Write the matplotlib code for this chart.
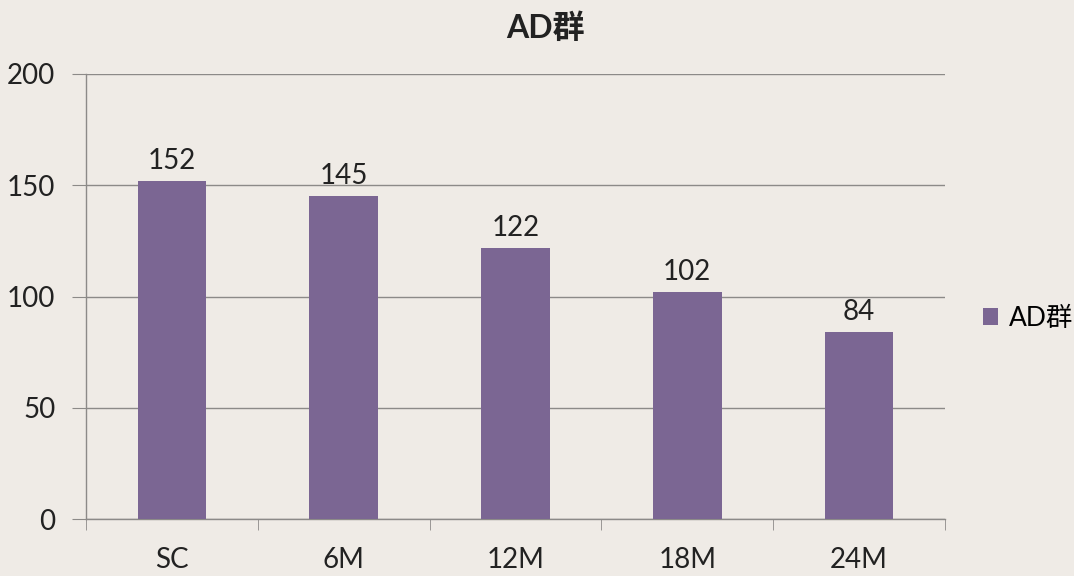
import matplotlib.pyplot as plt
from matplotlib.ticker import FixedLocator

plt.rcParams['font.family'] = ['Lato', 'Noto Sans CJK SC', 'DejaVu Sans']

categories = ["SC", "6M", "12M", "18M", "24M"]
values = [152, 145, 122, 102, 84]
series_name = "AD群"
y_ticks = [0, 50, 100, 150, 200]

bg = "#efebe6"
bar_color = "#7b6693"
grid_color = "#8c8a88"
text_color = "#222222"
fs = 20

fig = plt.figure(figsize=(10.74, 5.76), dpi=100, facecolor=bg)
ax = fig.add_axes([86 / 1074, 57 / 576, 859 / 1074, 445 / 576])
ax.set_facecolor(bg)

x = list(range(len(categories)))
bars = ax.bar(x, values, width=0.4, color=bar_color, label=series_name, zorder=3)
for rect, v in zip(bars, values):
    ax.annotate(str(v), (rect.get_x() + rect.get_width() / 2, v),
                xytext=(0, 5), textcoords="offset points",
                ha="center", va="bottom", fontsize=fs, color=text_color)

ax.set_xlim(-0.5, len(categories) - 0.5)
ax.set_ylim(0, 200)
ax.set_yticks(y_ticks)
ax.set_yticklabels([str(t) for t in y_ticks], fontsize=fs, color=text_color)
ax.set_xticks(x)
ax.set_xticklabels(categories, fontsize=fs, color=text_color)
ax.xaxis.set_minor_locator(FixedLocator([i - 0.5 for i in range(len(categories) + 1)]))
ax.tick_params(axis="x", which="major", length=0, pad=20)
ax.tick_params(axis="x", which="minor", length=8, color=grid_color, direction="out")
ax.tick_params(axis="y", length=10, color=grid_color, pad=12)

ax.grid(axis="y", color=grid_color, linewidth=1.0, zorder=0)
for side in ["top", "right"]:
    ax.spines[side].set_visible(False)
for side in ["left", "bottom"]:
    ax.spines[side].set_color(grid_color)
    ax.spines[side].set_linewidth(1.0)

# chart title sits centred over the whole chart area, legend included
fig.text(545 / 1074, 1 - 28 / 576, series_name, fontsize=23, fontweight="bold",
         ha="center", va="center", color=text_color)

fig.legend(loc="center left", bbox_to_anchor=(972 / 1074, 1 - 318 / 576), frameon=False,
           fontsize=19, handlelength=0.6, handleheight=0.6, handletextpad=0.4,
           borderaxespad=0)

fig.savefig("out.png", dpi=100, facecolor=bg)
